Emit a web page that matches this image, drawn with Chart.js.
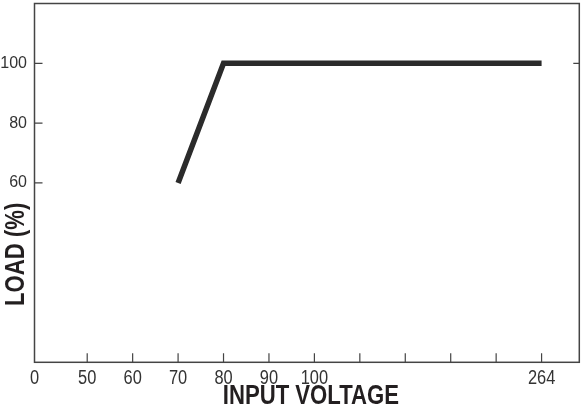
<!DOCTYPE html>
<html>
<head>
<meta charset="utf-8">
<script src="https://cdn.jsdelivr.net/npm/chart.js@4"></script>
<style>
html, body { margin: 0; padding: 0; background: #fff; }
#wrap { width: 587px; height: 415px; }
</style>
</head>
<body>
<div id="wrap"><canvas id="chart"></canvas></div>
<script>
// eixo X nao linear: 0, 50..100 de 10 em 10, depois marcas sem rotulo ate 264
const xTickLabels = ['0', '50', '60', '70', '80', '90', '100', '', '', '', '', '264'];
const yTickValues = [60, 80, 100];
const rightTickValues = [100];
const xTitle = 'INPUT VOLTAGE';
const yTitle = 'LOAD (%)';

// curva de derating
const voltage = [70, 80, 264];
const load = [60, 100, 100];

const firstGap = 1.16; // o intervalo 0-50 e um pouco mais largo no desenho
const slotOf = (i) => i === 0 ? 0 : firstGap + i - 1;

// converte tensao -> posicao no eixo, interpolando entre as marcas rotuladas
const voltToSlot = (v) => {
    const marks = xTickLabels
        .map((l, i) => ({ v: l === '' ? null : Number(l), s: slotOf(i) }))
        .filter((m) => m.v !== null);
    for (let k = 0; k < marks.length - 1; k++) {
        const a = marks[k], b = marks[k + 1];
        if (v >= a.v && v <= b.v) return a.s + (v - a.v) / (b.v - a.v) * (b.s - a.s);
    }
    return marks[marks.length - 1].s;
};

const FONT = '"Liberation Sans", Arial, sans-serif';
const NARROW = 0.82; // imita Arial Narrow apertando a fonte na horizontal

const narrowText = (ctx, text, x, y, font, color, rotate) => {
    ctx.save();
    ctx.translate(x, y);
    if (rotate) ctx.rotate(-Math.PI / 2);
    ctx.scale(NARROW, 1);
    ctx.font = font;
    ctx.fillStyle = color;
    ctx.textAlign = 'center';
    ctx.textBaseline = 'alphabetic';
    ctx.fillText(text, 0, 0);
    ctx.restore();
};

// moldura, marcas para dentro e textos estreitos
const frame = {
    id: 'frame',
    afterDraw(chart) {
        const { ctx, chartArea: a, scales } = chart;
        ctx.save();
        ctx.strokeStyle = '#444';
        ctx.lineWidth = 1.5;
        ctx.strokeRect(a.left, a.top, a.right - a.left, a.bottom - a.top);
        ctx.lineWidth = 1.2;
        ctx.beginPath();
        scales.y.ticks.forEach((t) => {
            const y = scales.y.getPixelForValue(t.value);
            ctx.moveTo(a.left, y); ctx.lineTo(a.left + 8, y);
        });
        rightTickValues.forEach((v) => {
            const y = scales.y.getPixelForValue(v);
            ctx.moveTo(a.right, y); ctx.lineTo(a.right - 6, y);
        });
        scales.x.ticks.forEach((t, i) => {
            if (i === 0) return;
            const x = scales.x.getPixelForValue(t.value);
            ctx.moveTo(x, a.bottom); ctx.lineTo(x, a.bottom - 9);
        });
        ctx.stroke();
        ctx.restore();

        scales.x.ticks.forEach((t, i) => {
            narrowText(ctx, xTickLabels[i], scales.x.getPixelForValue(t.value), a.bottom + 22, `20px ${FONT}`, '#333');
        });
        narrowText(ctx, xTitle, (a.left + a.right) / 2 + 4, a.bottom + 42, `bold 27px ${FONT}`, '#231f20');
        narrowText(ctx, yTitle, 24, a.bottom - 108, `bold 27px ${FONT}`, '#231f20', true);
    }
};

new Chart(document.getElementById('chart'), {
    type: 'line',
    data: {
        datasets: [{
            data: voltage.map((v, i) => ({ x: voltToSlot(v), y: load[i] })),
            borderColor: '#2b2b2b',
            borderWidth: 5.5,
            borderJoinStyle: 'miter',
            borderCapStyle: 'butt',
            pointRadius: 0,
            tension: 0,
            fill: false
        }]
    },
    options: {
        animation: false,
        responsive: true,
        maintainAspectRatio: false,
        layout: { padding: { top: 3.5, right: 7.7, left: 0, bottom: 0 } },
        plugins: { legend: { display: false }, tooltip: { enabled: false } },
        scales: {
            x: {
                type: 'linear',
                min: 0,
                max: slotOf(xTickLabels.length - 1) + 0.83,
                afterBuildTicks: (scale) => { scale.ticks = xTickLabels.map((l, i) => ({ value: slotOf(i) })); },
                afterFit: (scale) => { scale.height = 52.7; scale.paddingLeft = 0; scale.paddingRight = 0; },
                grid: { display: false, drawTicks: false },
                border: { display: false },
                ticks: { display: false }
            },
            y: {
                min: 0,
                max: 120,
                afterBuildTicks: (scale) => { scale.ticks = yTickValues.map((v) => ({ value: v })); },
                afterFit: (scale) => { scale.width = 34.5; scale.paddingTop = 0; scale.paddingBottom = 0; },
                grid: { display: false, drawTicks: false },
                border: { display: false },
                ticks: {
                    padding: 7.5,
                    color: '#333',
                    font: { family: FONT, size: 16 }
                }
            }
        }
    },
    plugins: [frame]
});
</script>
</body>
</html>
